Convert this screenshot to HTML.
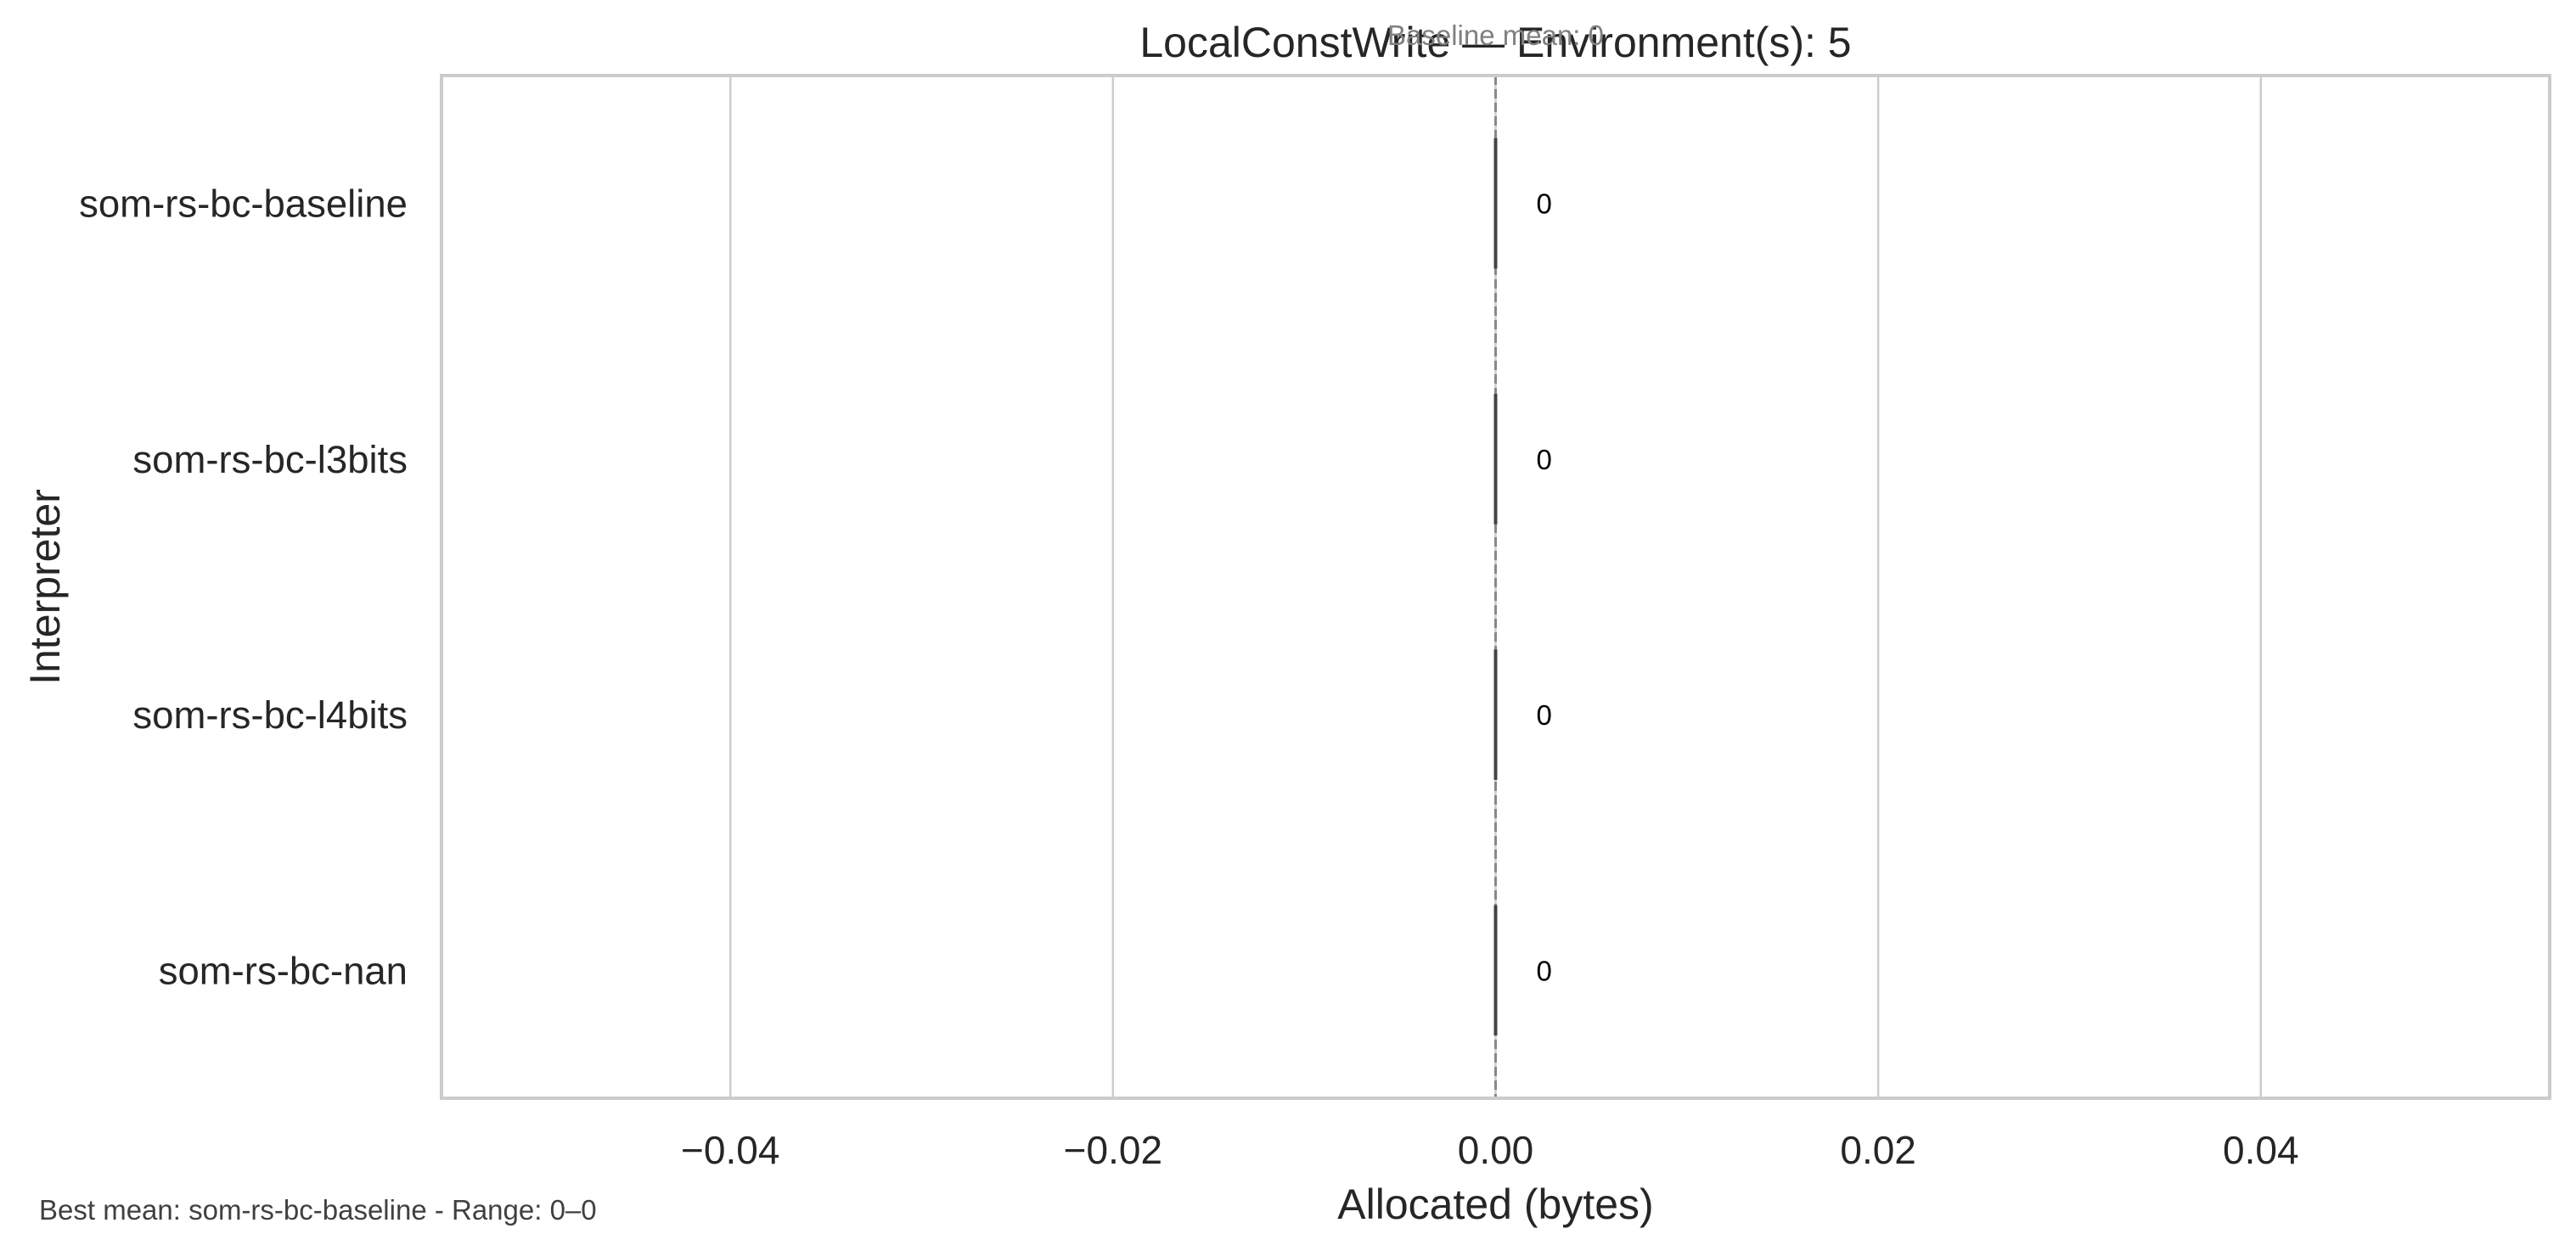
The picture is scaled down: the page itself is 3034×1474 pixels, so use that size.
<!DOCTYPE html>
<html><head><meta charset="utf-8"><style>
html,body{margin:0;padding:0;background:#fff;}
svg{display:block;font-family:"Liberation Sans",Arial,sans-serif;}
</style></head><body>
<svg id="chart" width="3034" height="1474" viewBox="0 0 3034 1474">
</svg>
<script>
const categories = ["som-rs-bc-baseline","som-rs-bc-l3bits","som-rs-bc-l4bits","som-rs-bc-nan"];
const values = [0,0,0,0];
const valueLabels = ["0","0","0","0"];
const xTicks = [-0.04,-0.02,0.00,0.02,0.04];
const xTickLabels = ["\u22120.04","\u22120.02","0.00","0.02","0.04"];
const baselineMean = [0];

const svg = document.getElementById('chart');
const NS = 'http://www.w3.org/2000/svg';
const L=520, R=3003, T=89, B=1294;
const xMin=-0.0551, xMax=0.0551;
function x(v){return L+(v-xMin)/(xMax-xMin)*(R-L);}
const band=(B-T)/categories.length;
function y(i){return T+band*(i+0.5);}
function mk(tag,attrs,parent){const e=document.createElementNS(NS,tag);for(const k in attrs)e.setAttribute(k,attrs[k]);(parent||svg).appendChild(e);return e;}

xTicks.forEach((t,i)=>{
  const g=mk('line',{x1:x(t),x2:x(t),y1:T,y2:B,stroke:'#cccccc','stroke-width':2.5});
  
  
  const tl=mk('text',{x:x(t),y:1371,'text-anchor':'middle','font-size':46,fill:'#262626'});
  tl.textContent=xTickLabels[i];
  
  
});

const bl=mk('line',{x1:x(baselineMean[0]),x2:x(baselineMean[0]),y1:T,y2:B,stroke:'#888888','stroke-width':3,'stroke-dasharray':'11,5'});



categories.forEach((c,i)=>{
  const h=band*0.51;
  const x0=x(0), x1=x(values[i]);
  const b=mk('rect',{x:Math.min(x0,x1)-2,y:y(i)-h/2,width:Math.abs(x1-x0)+4,height:h,fill:'#444444'});
  
  
  const vl=mk('text',{x:x(values[i])+48,y:y(i)+12,'text-anchor':'start','font-size':33,fill:'#000'});
  vl.textContent=valueLabels[i];
  
  
  const yl=mk('text',{x:480,y:y(i)+16,'text-anchor':'end','font-size':45.5,fill:'#262626'});
  yl.textContent=c;
  
  
});

const fr=mk('rect',{x:L,y:T,width:R-L,height:B-T,fill:'none',stroke:'#cccccc','stroke-width':4});



const title=mk('text',{x:x(0),y:67,'text-anchor':'middle','font-size':50,fill:'#262626'});
title.textContent='LocalConstWrite \u2014 Environment(s): 5';



const ann=mk('text',{x:x(baselineMean[0]),y:53,'text-anchor':'middle','font-size':33,fill:'#808080'});
ann.textContent='Baseline mean: '+baselineMean[0];



const xt=mk('text',{x:x(0),y:1436,'text-anchor':'middle','font-size':50,fill:'#262626'});
xt.textContent='Allocated (bytes)';



const yt=mk('text',{x:0,y:0,'text-anchor':'middle','font-size':50,fill:'#262626',transform:'translate(70,'+((T+B)/2)+') rotate(-90)'});
yt.textContent='Interpreter';



const ft=mk('text',{x:46,y:1437,'font-size':33,fill:'#404040'});
ft.textContent='Best mean: som-rs-bc-baseline - Range: 0\u20130';


</script>
</body></html>
